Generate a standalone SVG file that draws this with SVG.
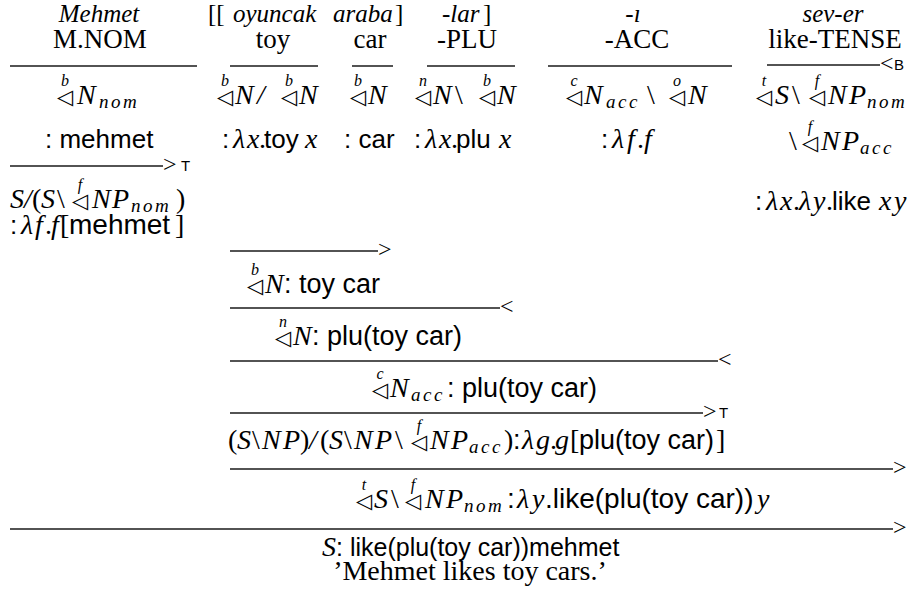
<svg xmlns="http://www.w3.org/2000/svg" width="920" height="594" viewBox="0 0 920 594">
<style>
text{fill:#000}
.g1{font:italic 25px "Liberation Serif",serif}
.g2{font:27px "Liberation Serif",serif}
.m{font:italic 28px "Liberation Serif",serif}
.u{font-style:normal}
.sb{font-size:19px;letter-spacing:2.5px}
.sp{font:italic 16px "Liberation Serif",serif;text-anchor:middle}
.t{font:21px "DejaVu Sans",sans-serif}
.s{font:26px "Liberation Sans",sans-serif}
.s7{font-size:27px}
.rl{font:15px "Liberation Sans",sans-serif}
.ar{font:24px "Liberation Serif",serif}
.mid{text-anchor:middle}
line{stroke:#1a1a1a;stroke-width:1.4}
</style>
<rect width="920" height="594" fill="#fff"/>

<g id="connectors">
<line x1="10" y1="66" x2="197" y2="66"/>
<line x1="230" y1="66" x2="318" y2="66"/>
<line x1="352" y1="66" x2="393" y2="66"/>
<line x1="427" y1="66" x2="515" y2="66"/>
<line x1="548" y1="66" x2="732" y2="66"/>
<line x1="767" y1="65" x2="880" y2="65"/>
<text class="ar" x="880" y="71">&lt;</text><text class="rl" x="894" y="70">B</text>
<line x1="10" y1="166" x2="163" y2="166"/>
<text class="ar" x="163" y="172">&gt;</text><text class="rl" x="181" y="171">T</text>
<line x1="230" y1="251" x2="378" y2="251"/>
<text class="ar" x="378" y="257">&gt;</text>
<line x1="230" y1="308" x2="500" y2="308"/>
<text class="ar" x="500" y="314">&lt;</text>
<line x1="230" y1="361" x2="718" y2="361"/>
<text class="ar" x="718" y="367">&lt;</text>
<line x1="230" y1="413" x2="703" y2="413"/>
<text class="ar" x="703" y="419">&gt;</text><text class="rl" x="719" y="418">T</text>
<line x1="230" y1="469" x2="893" y2="469"/>
<text class="ar" x="893" y="475">&gt;</text>
<line x1="10" y1="529" x2="893" y2="529"/>
<text class="ar" x="893" y="535">&gt;</text>
</g>

<g id="mehmet">
<text class="g1 mid" x="99" y="22">Mehmet</text>
<text class="g2 mid" x="100" y="48">M.NOM</text>
<text class="t" x="57" y="104">◁</text><text class="sp" x="65" y="86">b</text>
<text class="m"><tspan x="77" y="104">N</tspan><tspan class="sb" x="99" y="108">nom</tspan></text>
<text class="s" x="45" y="148">: mehmet</text>
<text class="m"><tspan x="10" y="208">S</tspan><tspan x="24">/</tspan><tspan class="u" x="32">(</tspan><tspan x="41">S</tspan><tspan class="u" x="57">\</tspan><tspan x="92">N</tspan><tspan x="112">P</tspan><tspan class="sb" x="131" y="212">nom</tspan><tspan class="u" x="176" y="208">)</tspan></text>
<text class="t" x="72" y="208">◁</text><text class="sp" x="80" y="190">f</text>
<text class="s" x="10" y="234">:</text>
<text class="m"><tspan x="21" y="234">λ</tspan><tspan x="35">f</tspan><tspan class="u" x="45">.</tspan><tspan x="51">f</tspan><tspan class="u" x="60">[</tspan><tspan class="u" x="175">]</tspan></text>
<text class="s" x="69" y="234" style="font-size:28px">mehmet</text>
</g>

<g id="oyuncak">
<text class="g1"><tspan class="u" x="208" y="22">[[</tspan><tspan x="233">oyuncak</tspan></text>
<text class="g2 mid" x="273" y="48">toy</text>
<text class="t" x="217" y="104">◁</text><text class="sp" x="225" y="86">b</text>
<text class="t" x="281" y="104">◁</text><text class="sp" x="289" y="86">b</text>
<text class="m"><tspan x="235" y="104">N</tspan><tspan x="257">/</tspan><tspan x="299">N</tspan></text>
<text class="s" x="222" y="148">:</text>
<text class="m"><tspan x="233" y="148">λ</tspan><tspan x="247">x</tspan><tspan class="u" x="259">.</tspan><tspan x="305">x</tspan></text>
<text class="s" x="264" y="148">toy</text>
</g>

<g id="araba">
<text class="g1"><tspan x="333" y="22">araba</tspan><tspan class="u" x="395">]</tspan></text>
<text class="g2 mid" x="370" y="48">car</text>
<text class="t" x="350" y="104">◁</text><text class="sp" x="358" y="86">b</text>
<text class="m" x="368" y="104">N</text>
<text class="s" x="344" y="148">: car</text>
</g>

<g id="lar">
<text class="g1"><tspan x="442" y="22">-lar</tspan><tspan class="u" x="483">]</tspan></text>
<text class="g2 mid" x="467" y="48">-PLU</text>
<text class="t" x="415" y="104">◁</text><text class="sp" x="423" y="86">n</text>
<text class="t" x="479" y="104">◁</text><text class="sp" x="487" y="86">b</text>
<text class="m"><tspan x="433" y="104">N</tspan><tspan class="u" x="455">\</tspan><tspan x="497">N</tspan></text>
<text class="s" x="414" y="148">:</text>
<text class="m"><tspan x="425" y="148">λ</tspan><tspan x="439">x</tspan><tspan class="u" x="451">.</tspan><tspan x="499">x</tspan></text>
<text class="s" x="456" y="148">plu</text>
</g>

<g id="acc">
<text class="g1 mid" x="633" y="22">-ı</text>
<text class="g2 mid" x="637" y="48">-ACC</text>
<text class="t" x="566" y="104">◁</text><text class="sp" x="574" y="86">c</text>
<text class="t" x="669" y="104">◁</text><text class="sp" x="677" y="86">o</text>
<text class="m"><tspan x="584" y="104">N</tspan><tspan class="sb" x="606" y="108">acc</tspan><tspan class="u" x="647" y="104">\</tspan><tspan x="688">N</tspan></text>
<text class="s" x="601" y="148">:</text>
<text class="m"><tspan x="612" y="148">λ</tspan><tspan x="627">f</tspan><tspan class="u" x="637">.</tspan><tspan x="644">f</tspan></text>
</g>

<g id="sever">
<text class="g1 mid" x="833" y="22">sev-er</text>
<text class="g2 mid" x="835" y="48">like-TENSE</text>
<text class="t" x="756" y="104">◁</text><text class="sp" x="764" y="86">t</text>
<text class="t" x="809" y="104">◁</text><text class="sp" x="817" y="86">f</text>
<text class="m"><tspan x="775" y="104">S</tspan><tspan class="u" x="792">\</tspan><tspan x="828">N</tspan><tspan x="849">P</tspan><tspan class="sb" x="867" y="108">nom</tspan></text>
<text class="t" x="802" y="150">◁</text><text class="sp" x="810" y="132">f</text>
<text class="m"><tspan class="u" x="789" y="150">\</tspan><tspan x="821">N</tspan><tspan x="842">P</tspan><tspan class="sb" x="860" y="154">acc</tspan></text>
<text class="s" x="755" y="210">:</text>
<text class="m"><tspan x="766" y="210">λ</tspan><tspan x="780">x</tspan><tspan class="u" x="793">.</tspan><tspan x="799">λ</tspan><tspan x="813">y</tspan><tspan class="u" x="826">.</tspan><tspan x="879">x</tspan><tspan x="894">y</tspan></text>
<text class="s" x="832" y="210">like</text>
</g>

<g id="d1">
<text class="t" x="247" y="293">◁</text><text class="sp" x="255" y="275">b</text>
<text class="m" x="265" y="293">N</text>
<text class="s s7" x="284" y="293">: toy car</text>
</g>

<g id="d2">
<text class="t" x="275" y="345">◁</text><text class="sp" x="283" y="327">n</text>
<text class="m" x="293" y="345">N</text>
<text class="s s7" x="312" y="345">: plu(toy car)</text>
</g>

<g id="d3">
<text class="t" x="372" y="397">◁</text><text class="sp" x="380" y="379">c</text>
<text class="m"><tspan x="390" y="397">N</tspan><tspan class="sb" x="411" y="401">acc</tspan></text>
<text class="s s7" x="447" y="397">: plu(toy car)</text>
</g>

<g id="d4">
<text class="m"><tspan class="u" x="228" y="449">(</tspan><tspan x="237">S</tspan><tspan class="u" x="252">\</tspan><tspan x="262">N</tspan><tspan x="283">P</tspan><tspan class="u" x="300">)</tspan><tspan x="309">/</tspan><tspan class="u" x="320">(</tspan><tspan x="329">S</tspan><tspan class="u" x="344">\</tspan><tspan x="354">N</tspan><tspan x="375">P</tspan><tspan class="u" x="395">\</tspan><tspan x="430">N</tspan><tspan x="451">P</tspan><tspan class="sb" x="469" y="453">acc</tspan><tspan class="u" x="504" y="449">)</tspan><tspan x="522">λ</tspan><tspan x="536">g</tspan><tspan class="u" x="550">.</tspan><tspan x="555">g</tspan><tspan class="u" x="570">[</tspan><tspan class="u" x="716">]</tspan></text>
<text class="t" x="411" y="449">◁</text><text class="sp" x="419" y="431">f</text>
<text class="s s7" x="513" y="449">:</text>
<text class="s s7" x="579" y="449">plu(toy car)</text>
</g>

<g id="d5">
<text class="t" x="356" y="508">◁</text><text class="sp" x="364" y="490">t</text>
<text class="t" x="405" y="508">◁</text><text class="sp" x="413" y="490">f</text>
<text class="m"><tspan x="374" y="508">S</tspan><tspan class="u" x="391">\</tspan><tspan x="425">N</tspan><tspan x="446">P</tspan><tspan class="sb" x="464" y="512">nom</tspan><tspan x="517" y="508">λ</tspan><tspan x="532">y</tspan><tspan x="757">y</tspan></text>
<text class="s" x="507" y="508" style="font-size:28px">:</text>
<text class="s" x="545" y="508" style="font-size:28px">.like(plu(toy car))</text>
</g>

<g id="final">
<text class="m" x="322" y="556">S</text>
<text class="s" x="336" y="556" style="font-size:25px">: like(plu(toy car))mehmet</text>
<text class="g2 mid" x="470" y="580" style="font-size:28px">’Mehmet likes toy cars.’</text>
</g>
</svg>
